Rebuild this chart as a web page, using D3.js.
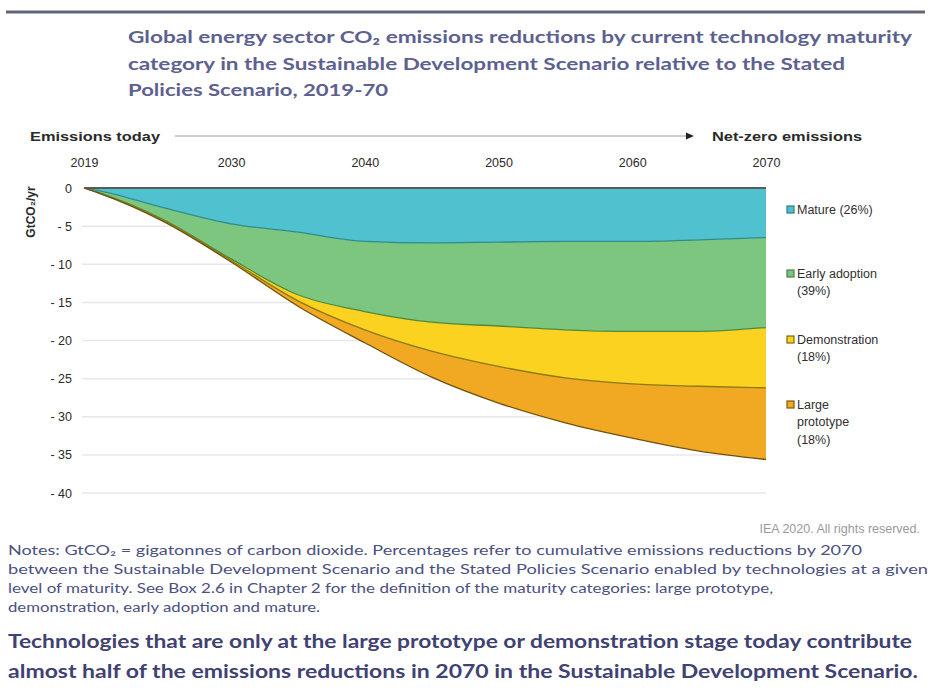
<!DOCTYPE html>
<html><head><meta charset="utf-8">
<script src="https://cdn.jsdelivr.net/npm/d3@7"></script>
<style>
html,body{margin:0;padding:0;background:#fff;}
svg{display:block;}
</style></head>
<body>
<svg id="chart" width="933" height="698"></svg>
<script>
// ---- DATA ----
const years = [2019, 2020, 2025, 2030, 2035, 2040, 2045, 2050, 2055, 2060, 2065, 2070];
const mature         = [0, -0.3, -2.6, -4.7, -5.8, -7.0, -7.2, -7.1, -7.0, -7.0, -6.8, -6.5];
const earlyAdoption  = [0, -0.25, -1.6, -4.6, -8.2, -9.2, -10.4, -11.0, -11.6, -11.8, -12.0, -11.8];
const demonstration  = [0, -0.03, -0.1, -0.2, -0.8, -2.4, -3.8, -5.3, -6.3, -6.9, -7.2, -7.9];
const largePrototype = [0, -0.02, -0.15, -0.2, -0.7, -1.7, -3.4, -4.8, -5.9, -7.1, -8.5, -9.4];
const seriesNames = ["Mature", "Early adoption", "Demonstration", "Large prototype"];
const legendLabels = [["Mature (26%)"], ["Early adoption", "(39%)"], ["Demonstration", "(18%)"], ["Large", "prototype", "(18%)"]];
const xTicks = [2019, 2030, 2040, 2050, 2060, 2070];
const yTicks = [0, -5, -10, -15, -20, -25, -30, -35, -40];
const titleLines = [
  "Global energy sector CO\u2082 emissions reductions by current technology maturity",
  "category in the Sustainable Development Scenario relative to the Stated",
  "Policies Scenario, 2019-70"
];
const noteLines = [
  "Notes: GtCO\u2082 = gigatonnes of carbon dioxide. Percentages refer to cumulative emissions reductions by 2070",
  "between the Sustainable Development Scenario and the Stated Policies Scenario enabled by technologies at a given",
  "level of maturity. See Box 2.6 in Chapter 2 for the definition of the maturity categories: large prototype,",
  "demonstration, early adoption and mature."
];
const summaryLines = [
  "Technologies that are only at the large prototype or demonstration stage today contribute",
  "almost half of the emissions reductions in 2070 in the Sustainable Development Scenario."
];

// ---- STYLE ----
const fills = ["#4fc1cf", "#7dc67f", "#fbd21f", "#f1a823"];
const strokes = ["#2e8c8c", "#4d8a3e", "#8a7a10", "#6e5210"];
const legendBorders = ["#2e7d80", "#4a7d4a", "#7a6a10", "#7a5a10"];

const svg = d3.select("#chart");
const table = years.map((y, i) => ({
  year: y,
  "Mature": mature[i],
  "Early adoption": earlyAdoption[i],
  "Demonstration": demonstration[i],
  "Large prototype": largePrototype[i]
}));

const x = d3.scaleLinear().domain([2019, 2070]).range([84, 766]);
const y = d3.scaleLinear().domain([0, -40]).range([188, 493]);

function fit(sel, w) {
  sel.each(function () {
    const l = this.getComputedTextLength();
    if (l > 0 && Math.abs(l - w) > 1.5) {
      this.setAttribute("textLength", w);
      this.setAttribute("lengthAdjust", "spacingAndGlyphs");
    }
  });
}

// top rule
svg.append("line").attr("x1", 6).attr("x2", 925).attr("y1", 12).attr("y2", 12)
  .attr("stroke", "#62657a").attr("stroke-width", 3);

// title
const titleW = [784, 717, 260];
titleLines.forEach((t, i) => {
  svg.append("text").attr("x", 128).attr("y", 43 + i * 26.5)
    .attr("font-family", "Lato, 'Open Sans', sans-serif").attr("font-weight", 700)
    .attr("font-size", 17.5).attr("fill", "#5d6190").text(t)
    .call(fit, titleW[i]);
});

// header arrow row
svg.append("text").attr("x", 30).attr("y", 141).attr("font-family", "'Liberation Sans', Arial, sans-serif")
  .attr("font-weight", 700).attr("font-size", 12.5).attr("fill", "#2a2a2a").text("Emissions today").call(fit, 130);
svg.append("line").attr("x1", 175).attr("x2", 688).attr("y1", 136).attr("y2", 136)
  .attr("stroke", "#9a9a9a").attr("stroke-width", 1);
svg.append("path").attr("d", "M686,132.5 L694,136 L686,139.5 Z").attr("fill", "#222");
svg.append("text").attr("x", 712).attr("y", 141).attr("font-family", "'Liberation Sans', Arial, sans-serif")
  .attr("font-weight", 700).attr("font-size", 12.5).attr("fill", "#2a2a2a").text("Net-zero emissions").call(fit, 150);

// gridlines
svg.append("g").selectAll("line").data(yTicks.filter(d => d !== 0)).join("line")
  .attr("x1", 82).attr("x2", 766).attr("y1", d => y(d)).attr("y2", d => y(d))
  .attr("stroke", "#e8e8e8").attr("stroke-width", 1.5);

// x axis labels (top)
const xAxis = d3.axisTop(x).tickValues(xTicks).tickFormat(d3.format("d")).tickSize(0).tickPadding(0);
const gx = svg.append("g").attr("transform", "translate(0,167)").call(xAxis);
gx.select(".domain").remove();
gx.selectAll("text").attr("font-family", "'Liberation Sans', Arial, sans-serif").attr("font-size", 12.5)
  .attr("fill", "#2a2a2a").attr("dy", 0);

// y axis labels
const yAxis = d3.axisLeft(y).tickValues(yTicks)
  .tickFormat(d => d === 0 ? "0" : "- " + Math.abs(d)).tickSize(0).tickPadding(0);
const gy = svg.append("g").attr("transform", "translate(72,0)").call(yAxis);
gy.select(".domain").remove();
gy.selectAll("text").attr("font-family", "'Liberation Sans', Arial, sans-serif").attr("font-size", 12.5)
  .attr("fill", "#2a2a2a");

// y axis title
svg.append("text").attr("transform", "translate(35,212) rotate(-90)").attr("text-anchor", "middle")
  .attr("font-family", "'Liberation Sans', Arial, sans-serif").attr("font-size", 12).attr("font-weight", 700)
  .attr("fill", "#2a2a2a").text("GtCO\u2082/yr");

// stacked areas
const stack = d3.stack().keys(seriesNames).offset(d3.stackOffsetDiverging);
const layers = stack(table);
const area = d3.area().x(d => x(d.data.year)).y0(d => y(d[0])).y1(d => y(d[1])).curve(d3.curveMonotoneX);
svg.append("g").selectAll("path").data(layers).join("path")
  .attr("d", area).attr("fill", (d, i) => fills[i]);
// outlines (lower edge of each layer)
const edge = d3.line().x(d => x(d.data.year)).y(d => y(d[0])).curve(d3.curveMonotoneX);
svg.append("g").selectAll("path").data(layers).join("path")
  .attr("d", edge).attr("fill", "none").attr("stroke", (d, i) => strokes[i]).attr("stroke-width", 1.3);
// zero line
svg.append("line").attr("x1", x(2019)).attr("x2", x(2070)).attr("y1", y(0)).attr("y2", y(0))
  .attr("stroke", "#5a5a5a").attr("stroke-width", 2);

// legend
const legendY = [[213], [277, 294], [343, 360], [408, 425, 443]];
legendLabels.forEach((lines, i) => {
  svg.append("rect").attr("x", 787).attr("y", legendY[i][0] - 7).attr("width", 7).attr("height", 7)
    .attr("fill", fills[i]).attr("stroke", legendBorders[i]).attr("stroke-width", 1.2);
  lines.forEach((t, j) => {
    svg.append("text").attr("x", 797).attr("y", legendY[i][j] + 1)
      .attr("font-family", "'Liberation Sans', Arial, sans-serif").attr("font-size", 12.5)
      .attr("fill", "#2f2f2f").text(t);
  });
});

// credit
svg.append("text").attr("x", 920).attr("y", 533).attr("text-anchor", "end")
  .attr("font-family", "'Liberation Sans', Arial, sans-serif").attr("font-size", 12.5)
  .attr("fill", "#9a9a9a").text("IEA 2020. All rights reserved.");

// notes
const noteW = [854, 920, 765, 312];
noteLines.forEach((t, i) => {
  svg.append("text").attr("x", 8).attr("y", 555 + i * 19)
    .attr("font-family", "Lato, 'Open Sans', sans-serif").attr("font-size", 12.5)
    .attr("fill", "#4c5080").text(t).call(fit, noteW[i]);
});

// summary
const sumW = [904, 910];
summaryLines.forEach((t, i) => {
  svg.append("text").attr("x", 8).attr("y", 648 + i * 30)
    .attr("font-family", "Lato, 'Open Sans', sans-serif").attr("font-weight", 700).attr("font-size", 19)
    .attr("fill", "#3f4272").text(t).call(fit, sumW[i]);
});
</script>
</body></html>
